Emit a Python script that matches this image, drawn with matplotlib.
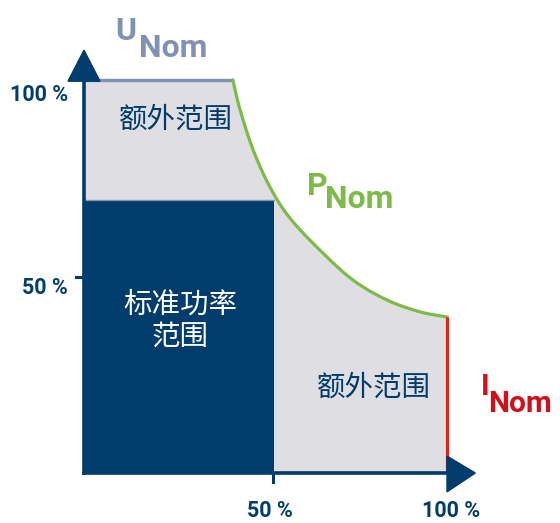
import numpy as np
import matplotlib.pyplot as plt
from matplotlib.patches import Polygon, Rectangle

# data (percent of nominal values)
u_nom = 100          # voltage limit
u_end = 41           # where the voltage limit meets the power curve
p_curve_x = [41.0, 43.0, 46.6, 51.2, 56.7, 65.0, 74.1, 83.5, 92.6, 100.0]
p_curve_y = [100.0, 92.4, 82.2, 72.8, 64.9, 56.7, 49.1, 44.0, 41.0, 39.7]
i_nom = 100          # current limit
std_w = 52.3         # standard power range width
std_h = 69.5         # standard power range height
x_ticks = [52, 100]
x_tick_labels = ["50 %", "100 %"]
y_ticks = [50, 100]
y_tick_labels = ["50 %", "100 %"]

dark = "#003c6c"
gray = "#dfdfe3"
slate = "#8091b4"
green = "#7cbb45"
red = "#e2231a"

cjk = ["Noto Sans CJK SC", "DejaVu Sans"]
lat = ["Roboto", "DejaVu Sans"]


def smooth(xs, ys, n=20):
    # catmull-rom through the read points, only to draw them as a smooth line
    p = np.column_stack([xs, ys])
    p = np.vstack([2 * p[0] - p[1], p, 2 * p[-1] - p[-2]])
    out = []
    t = np.linspace(0, 1, n, endpoint=False)[:, None]
    for i in range(1, len(p) - 2):
        p0, p1, p2, p3 = p[i - 1], p[i], p[i + 1], p[i + 2]
        out.append(0.5 * ((2 * p1) + (-p0 + p2) * t + (2 * p0 - 5 * p1 + 4 * p2 - p3) * t ** 2
                          + (-p0 + 3 * p1 - 3 * p2 + p3) * t ** 3))
    out.append(p[-2][None, :])
    out = np.vstack(out)
    return out[:, 0], out[:, 1]


cx, cy = smooth(p_curve_x, p_curve_y)

fig = plt.figure(figsize=(5.6, 5.23), dpi=100)
ax = fig.add_axes([0, 0, 1, 1])
ax.set_xlim(-23.14, 131.13)
ax.set_ylim(-12.72, 120.36)
ax.axis("off")

# grey overload area
poly = [(0, 0), (0, u_nom)] + list(zip(cx, cy)) + [(i_nom, 0)]
ax.add_patch(Polygon(poly, closed=True, facecolor=gray, edgecolor="none", zorder=1))

# standard power range
ax.add_patch(Rectangle((0, 0), std_w, std_h, facecolor=dark, edgecolor="none", zorder=2))
ax.plot([0, std_w], [std_h, std_h], color=slate, lw=1, zorder=3)

# limits
ax.plot([0, u_end], [u_nom, u_nom], color=slate, lw=2.4, solid_capstyle="butt", zorder=3)
ax.plot(cx, cy, color=green, lw=2.3, zorder=3)
ax.plot([i_nom, i_nom], [0, p_curve_y[-1]], color=red, lw=2.3, solid_capstyle="butt", zorder=3)

# axes with arrows
ax.plot([0, 0], [0, u_nom], color=dark, lw=2.6, zorder=4)
ax.plot([0, i_nom], [0, 0], color=dark, lw=2.6, zorder=4)
ax.add_patch(Polygon([(-4.4, 99.7), (4.4, 99.7), (0, 107.6)], closed=True, color=dark, zorder=5))
ax.add_patch(Polygon([(100, 4.3), (100, -4.8), (107.8, 0)], closed=True, color=dark, zorder=5))

# ticks
ax.plot([-2.2, 0], [50, 50], color=dark, lw=2.2, zorder=4)
ax.plot([x_ticks[0], x_ticks[0]], [0, -2.4], color=dark, lw=2.2, zorder=4)
for xt, lab in zip(x_ticks, x_tick_labels):
    ax.text(xt - 0.8 if xt < 100 else xt + 1.2, -9.7, lab, ha="center", va="center",
            fontsize=15.5, fontweight="bold", family=lat, color=dark)
for yt, lab in zip(y_ticks, y_tick_labels):
    ax.text(-4.5, yt - (3.8 if yt == 100 else 2.9), lab, ha="right", va="center",
            fontsize=15.5, fontweight="bold", family=lat, color=dark)

# region labels
ax.text(25.2, 89.8, "额外范围", ha="center", va="center", fontsize=20.5, family=cjk, color=dark)
ax.text(79.8, 21.8, "额外范围", ha="center", va="center", fontsize=20.5, family=cjk, color=dark)
ax.text(26.4, 42.9, "标准功率", ha="center", va="center", fontsize=20.5, family=cjk, color="white")
ax.text(26.4, 34.7, "范围", ha="center", va="center", fontsize=20.5, family=cjk, color="white")


# limit names
def limit_label(x, y, main, xs, ys, color, size=23):
    ax.text(x, y, main, ha="left", va="baseline", fontsize=size, fontweight="bold",
            family=lat, color=color)
    ax.text(xs, ys, "Nom", ha="left", va="baseline", fontsize=size, fontweight="bold",
            family=lat, color=color)


limit_label(8.6, 110.2, "U", 15.2, 105.9, slate)
limit_label(61.3, 70.7, "P", 66.5, 67.4, green)
limit_label(109.3, 19.8, "I", 111.4, 15.5, "#d0101c", size=21.5)

fig.savefig("out.png", dpi=100)
